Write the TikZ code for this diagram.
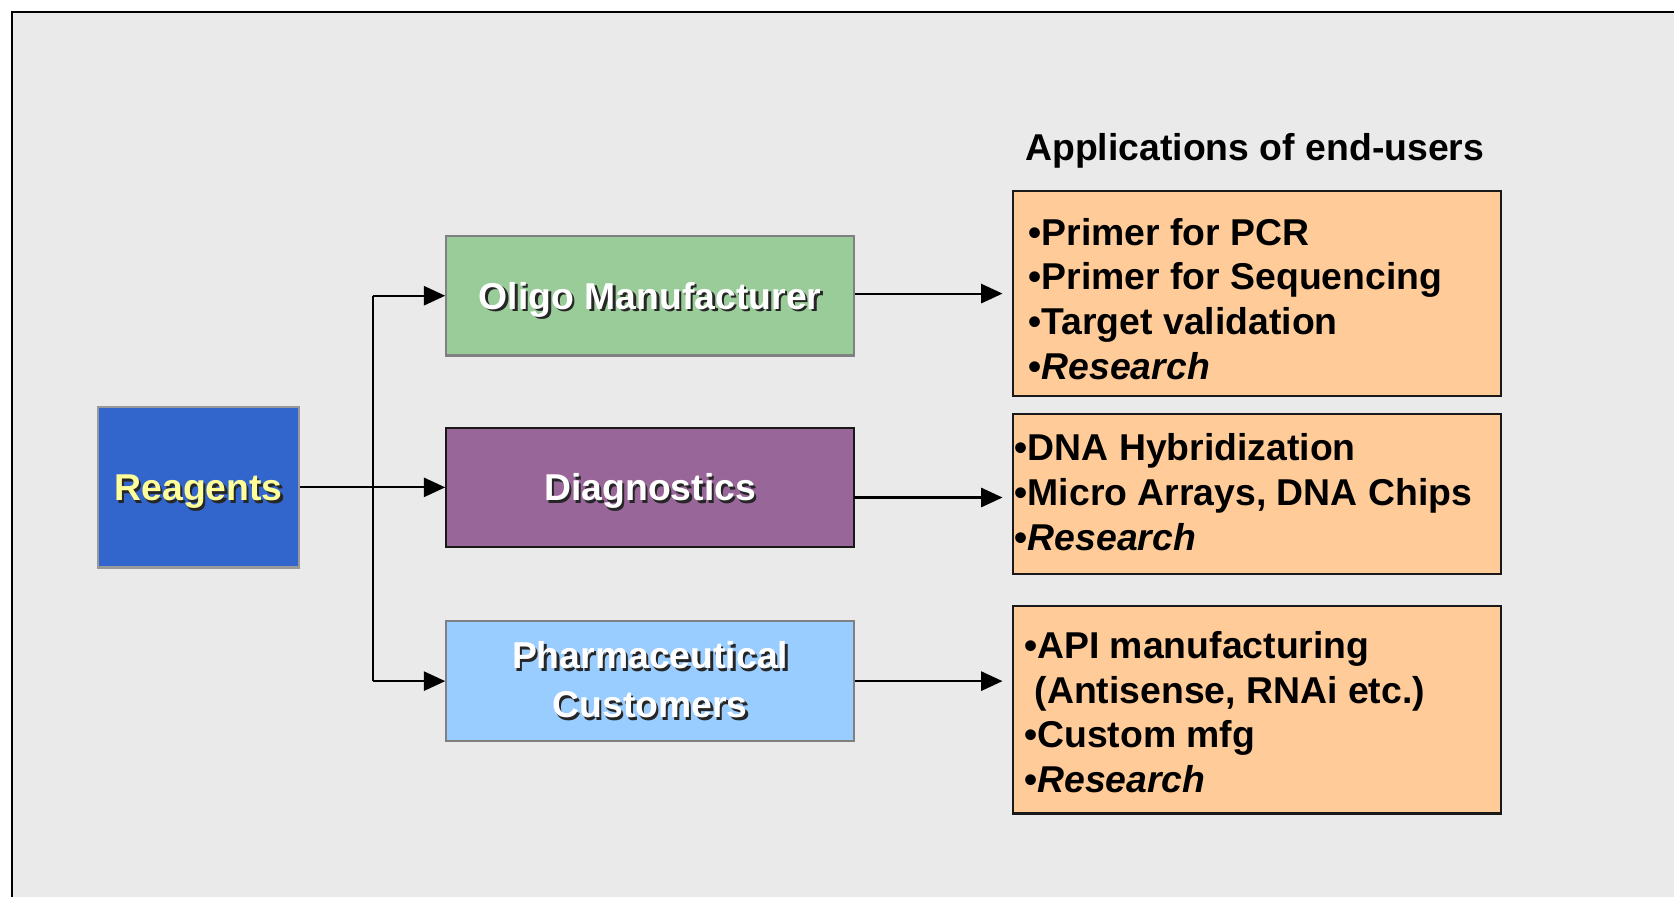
\documentclass[tikz,border=0pt]{standalone}
\usepackage{fontspec}
\setmainfont{Liberation Sans}
\usetikzlibrary{arrows.meta}
\definecolor{bgc}{HTML}{EAEAEA}
\definecolor{reagc}{HTML}{3366CC}
\definecolor{oligoc}{HTML}{99CC99}
\definecolor{diagc}{HTML}{996699}
\definecolor{pharmc}{HTML}{99CCFF}
\definecolor{appc}{HTML}{FFCC99}
\definecolor{yelc}{HTML}{FFFF99}
\newcommand\shd[1]{\leavevmode\rlap{\kern1.1pt\raisebox{-1.1pt}{\textcolor{black!85}{#1}}}#1}
\tikzset{
  mainbox/.style={draw=#1, line width=1pt, minimum width=191pt, minimum height=56pt, inner sep=0pt,
    font=\fontsize{17.5}{23}\selectfont\bfseries, text=white, align=center},
  oneline/.style={text height=12.5pt, text depth=0pt},
  appbox/.style={draw=black!90, line width=1pt, fill=appc, minimum width=228.5pt, inner sep=0pt},
  apptext/.style={font=\fontsize{17.5}{21}\selectfont\bfseries, align=left, inner sep=0pt, anchor=west},
  arr/.style={line width=1pt, -{Triangle[length=10pt,width=9pt]}},
}
\begin{document}
\begin{tikzpicture}[x=0.5pt,y=-0.5pt]
\useasboundingbox (0,0) rectangle (1568,840);
\fill[white] (0,0) rectangle (1568,840);
\fill[bgc] (11,11) rectangle (1568,840);
\draw[line width=1pt] (11,840) -- (11,11) -- (1568,11);

\node[draw=black!40, line width=1pt, fill=reagc, minimum width=94pt, minimum height=75pt, inner sep=0pt,
  font=\fontsize{17.5}{21}\selectfont\bfseries, text=yelc, oneline] (reag) at (186,456.5) {\shd{Reagents}};
\node[mainbox=black!50, fill=oligoc, oneline] (oligo) at (609,277) {\shd{Oligo Manufacturer}};
\node[mainbox=black!90, fill=diagc, oneline] (diag) at (609,456.5) {\shd{Diagnostics}};
\node[mainbox=black!50, fill=pharmc] (pharm) at (609,638) {\shd{Pharmaceutical}\\\shd{Customers}};

\node[anchor=base west, font=\fontsize{17.5}{21}\selectfont\bfseries, inner sep=0pt] (title) at (960,150) {Applications of end-users};

\node[appbox, minimum height=96pt] (app1) at (1177.5,275) {};
\node[appbox, minimum height=75pt] (app2) at (1177.5,463) {};
\node[appbox, minimum height=97pt] (app3) at (1177.5,665) {};
\node[apptext] (app1t) at ([shift={(15,5)}]app1.west)
  {•Primer for PCR\\•Primer for Sequencing\\•Target validation\\•\textit{Research}};
\node[apptext] (app2t) at ([shift={(2,-2)}]app2.west)
  {•DNA Hybridization\\•Micro Arrays, DNA Chips\\•\textit{Research}};
\node[apptext] (app3t) at ([shift={(11,2)}]app3.west)
  {•API manufacturing\\\ (Antisense, RNAi etc.)\\•Custom mfg\\•\textit{Research}};

\coordinate (j) at (349,456.5);
\draw[arr] (reag.east) -- (diag.west);
\draw[line width=1pt] (j |- oligo.west) -- (j |- pharm.west);
\draw[arr] (j |- oligo.west) -- (oligo.west);
\draw[arr] (j |- pharm.west) -- (pharm.west);
\coordinate (d1) at (800,466);
\draw[arr, shorten >=4.5pt] (oligo.east |- app1.west) -- (app1.west);
\draw[arr, shorten >=4.5pt] (d1) -- (d1 -| app2.west);
\draw[arr, shorten >=4.5pt] (pharm.east) -- (pharm.east -| app3.west);
\end{tikzpicture}
\end{document}
